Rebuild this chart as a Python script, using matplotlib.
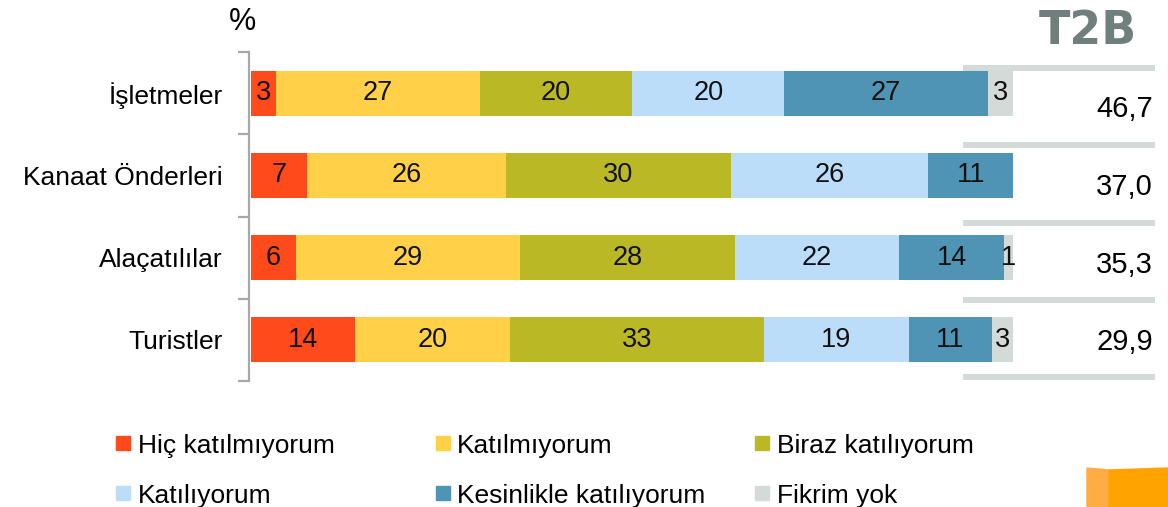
import matplotlib
matplotlib.use("Agg")
import matplotlib.pyplot as plt
from matplotlib.patches import Rectangle, Polygon
from matplotlib.lines import Line2D

# data
groups = ["İşletmeler", "Kanaat Önderleri", "Alaçatılılar", "Turistler"]
answers = ["Hiç katılmıyorum", "Katılmıyorum", "Biraz katılıyorum",
           "Katılıyorum", "Kesinlikle katılıyorum", "Fikrim yok"]
hic = [3.3, 7.4, 5.9, 13.6]
katilmiyorum = [26.7, 26.0, 29.4, 20.4]
biraz = [20.0, 29.6, 28.2, 33.3]
katiliyorum = [20.0, 25.9, 21.6, 19.0]
kesinlikle = [26.7, 11.1, 13.7, 10.9]
fikrim_yok = [3.3, 0.0, 1.2, 2.8]
t2b = [46.7, 37.0, 35.3, 29.9]

series = [hic, katilmiyorum, biraz, katiliyorum, kesinlikle, fikrim_yok]
colors = ["#FF4A1C", "#FFD048", "#BBB826", "#BBDDFA", "#4F93B5", "#D4DAD8"]

W, H = 1168, 507
fig = plt.figure(figsize=(W / 100, H / 100), dpi=100)
ax = fig.add_axes([251 / W, 1 - 381 / H, 762 / W, 329 / H])

ypos = list(range(len(groups)))
left = [0.0] * len(groups)
for vals, col in zip(series, colors):
    bars = ax.barh(ypos, vals, left=left, height=0.55, color=col, edgecolor="none")
    for b, v in zip(bars, vals):
        if v > 0:
            ax.text(b.get_x() + b.get_width() / 2, b.get_y() + b.get_height() / 2,
                    f"{round(v)}", ha="center", va="center", fontsize=19.5,
                    family="Liberation Sans", color="#111111")
    left = [l + v for l, v in zip(left, vals)]

ax.set_xlim(0, 100)
ax.set_ylim(len(groups) - 0.5, -0.5)
ax.patch.set_visible(False)
for s in ["top", "right", "bottom"]:
    ax.spines[s].set_visible(False)
ax.spines["left"].set_color("#A8A8A8")
ax.spines["left"].set_linewidth(1.6)
ax.spines["left"].set_position(("outward", 1.5))
ax.set_xticks([])
ax.set_yticks([i - 0.5 for i in range(len(groups) + 1)])
ax.set_yticklabels([])
ax.tick_params(axis="y", which="major", length=8, width=1.6, color="#A8A8A8")
ax.set_yticks(ypos, minor=True)
ax.set_yticklabels(groups, minor=True, fontsize=19, family="Liberation Sans")
ax.tick_params(axis="y", which="minor", length=0, pad=19)

fig.text(243 / W, 1 - 22 / H, "%", ha="center", va="center", fontsize=22,
         family="Liberation Sans")

# T2B column
fig.text(1088 / W, 1 - 31 / H, "T2B", ha="center", va="center", fontsize=33,
         fontweight="bold", color="#6E7F7C")
for yl in [68, 145, 223, 300, 377]:
    fig.lines.append(Line2D([963 / W, 1155 / W], [1 - yl / H, 1 - yl / H],
                            transform=fig.transFigure, color="#D4DAD8", lw=4.3,
                            solid_capstyle="butt"))
for v, yc in zip(t2b, [109, 187, 265, 342]):
    fig.text(1153 / W, 1 - yc / H, f"{v:.1f}".replace(".", ","), ha="right",
             va="center", fontsize=21, family="Liberation Sans")

# legend (row-wise, drawn by hand)
sq_x = [116, 436, 755]
tx_x = [138, 457, 777]
row_y = [443, 493]
for i, (name, col) in enumerate(zip(answers, colors)):
    r, c = divmod(i, 3)
    fig.patches.append(Rectangle((sq_x[c] / W, 1 - (row_y[r] + 7) / H), 14 / W, 14 / H,
                                 transform=fig.transFigure, color=col))
    fig.text(tx_x[c] / W, 1 - row_y[r] / H, name, ha="left", va="center_baseline",
             fontsize=19, family="Liberation Sans")

# orange box corner, bottom right
side = [(1087, 468), (1109, 470), (1109, 507), (1087, 507)]
front = [(1109, 470), (1168, 468), (1168, 507), (1109, 507)]
for pts, col in [(side, "#FFAC45"), (front, "#FFA300")]:
    fig.patches.append(Polygon([(x / W, 1 - y / H) for x, y in pts], closed=True,
                               transform=fig.transFigure, color=col))

fig.savefig("out.png", dpi=100)
